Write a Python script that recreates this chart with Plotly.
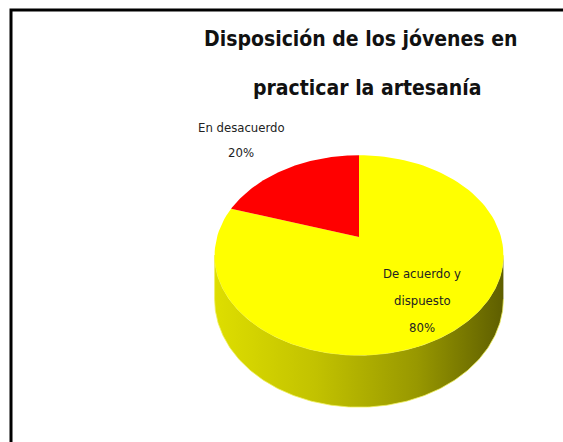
import numpy as np
import plotly.graph_objects as go

# ---- data ----
categories = ["De acuerdo y dispuesto", "En desacuerdo"]
values = [80, 20]
label_lines = [["De acuerdo y", "dispuesto", "80%"], ["En desacuerdo", "20%"]]
slice_colors = ["#FFFF00", "#FF0000"]
title_lines = ["Disposición de los jóvenes en", "practicar la artesanía"]

# ---- geometry (pixel space) ----
W, H = 563, 442
CX, CY = 359, 237          # apex of the pie top face
K = 142                    # horizontal radius scale
C = 0.182                  # perspective factor
S = 0.681                  # tilt (vertical squash)
DEPTH = 52 * (1 - C)       # thickness of the pie

def proj(theta_deg, drop=0.0):
    t = np.radians(theta_deg)
    u, v = np.sin(t), np.cos(t)
    z = 1 + C * v
    return CX + K * u / z, CY - K * S * v / z + drop / z

FONT = "DejaVu Sans Condensed, Liberation Sans Narrow, Arial Narrow, sans-serif"

fig = go.Figure()

# side wall (visible front part)
theta_l = np.degrees(np.arccos(-C))
th = np.linspace(theta_l, 360 - theta_l, 200)
xt, yt = proj(th)
xb, yb = proj(th[::-1], DEPTH)
fig.add_trace(go.Scatter(
    x=np.concatenate([xt, xb]), y=np.concatenate([yt, yb]),
    mode="lines", fill="toself", line=dict(width=0.8, color="#f0f060"),
    fillgradient=dict(type="horizontal",
                      colorscale=[[0, "#dede00"], [0.35, "#c2c200"],
                                  [0.7, "#989800"], [1, "#5e5e00"]]),
    hoverinfo="skip", showlegend=False))

# top face wedges from the data
total = sum(values)
start = 0.0
for cat, val, col in zip(categories, values, slice_colors):
    span = 360.0 * val / total
    a = np.linspace(start, start + span, 120)
    px, py = proj(a)
    xs = np.concatenate([[CX], px, [CX]])
    ys = np.concatenate([[CY], py, [CY]])
    fig.add_trace(go.Scatter(x=xs, y=ys, mode="lines", fill="toself",
                             fillcolor=col, line=dict(width=0, color=col),
                             name=cat, hoverinfo="name", showlegend=False))
    start += span

# data labels
lab_pos = [(422, [273, 300, 327]), (241, [127, 152])]
for (lx, lys), lines in zip(lab_pos, label_lines):
    for ly, txt in zip(lys, lines):
        fig.add_annotation(x=lx, y=ly, text=txt, showarrow=False,
                           xanchor="center", yanchor="middle",
                           font=dict(family=FONT, size=13, color="#222222"))

# title
for tx, ty, txt in zip([360, 367], [39, 88], title_lines):
    fig.add_annotation(x=tx, y=ty, text="<b>" + txt + "</b>", showarrow=False,
                       xanchor="center", yanchor="middle",
                       font=dict(family=FONT, size=21, color="#111111"))

# outer border (extends past the picture on right and bottom)
fig.add_shape(type="rect", x0=11, y0=10, x1=W + 30, y1=H + 30,
              line=dict(color="black", width=3), fillcolor="rgba(0,0,0,0)")

fig.update_xaxes(range=[0, W], visible=False, fixedrange=True)
fig.update_yaxes(range=[H, 0], visible=False, fixedrange=True)
fig.update_layout(width=W, height=H, margin=dict(l=0, r=0, t=0, b=0),
                  paper_bgcolor="white", plot_bgcolor="white")

fig.write_html("out.html", config={"displayModeBar": False},
               post_script="document.body.style.margin='0';document.body.style.overflow='hidden';")
